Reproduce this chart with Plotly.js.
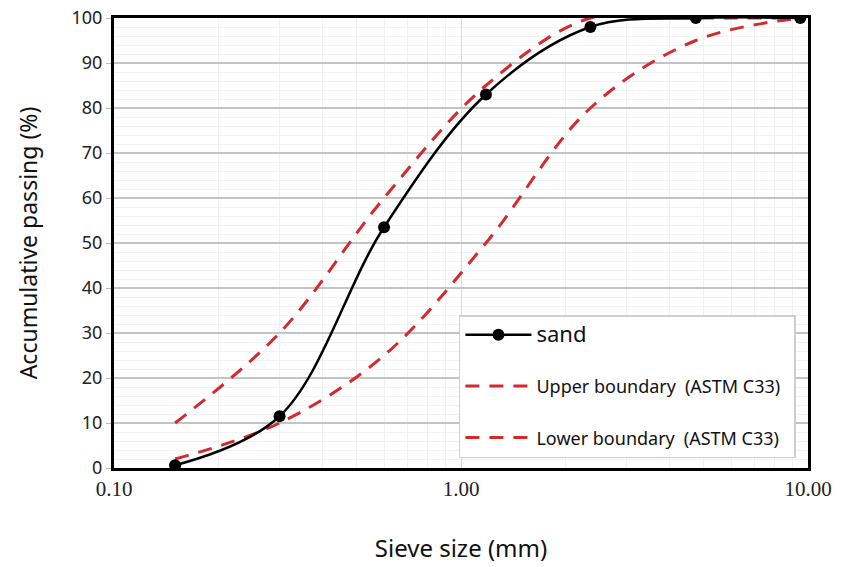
<!DOCTYPE html>
<html>
<head>
<meta charset="utf-8">
<script src="https://cdn.plot.ly/plotly-3.0.1.min.js"></script>
<style>html,body{margin:0;padding:0;background:#fff;}</style>
</head>
<body>
<div id="chart" style="width:850px;height:567px;"></div>
<script>
const sieveSizes = [0.15, 0.3, 0.6, 1.18, 2.36, 4.75, 9.5];
const sandPassing = [0.6, 11.5, 53.5, 83, 98, 100, 100];
const upperBoundary = [10, 30, 60, 85, 100, 100, 100];
const lowerBoundary = [2, 10, 25, 50, 80, 95, 100];
const xTickVals = [0.1, 1, 10];
const xTickText = ['0.10', '1.00', '10.00'];
const seriesNames = ['sand', 'Upper boundary\u2002(ASTM C33)', 'Lower boundary\u2002(ASTM C33)'];

const red = '#d32a2e';
const traces = [
  {
    x: sieveSizes, y: upperBoundary, name: seriesNames[1] + '\u2002', mode: 'lines',
    line: {color: red, width: 3, dash: '14px,10px', shape: 'spline'},
    legendgroup: 'b', legendrank: 2
  },
  {
    x: sieveSizes, y: lowerBoundary, name: seriesNames[2] + '\u2002', mode: 'lines',
    line: {color: red, width: 3, dash: '14px,10px', shape: 'spline'},
    legendgroup: 'c', legendrank: 3
  },
  {
    x: sieveSizes, y: sandPassing, name: '<span style="font-size:22px">' + seriesNames[0] + '</span>',
    mode: 'lines+markers',
    line: {color: '#000', width: 2.5, shape: 'spline'},
    marker: {color: '#000', size: 12},
    legendgroup: 'a', legendrank: 1
  }
];

const layout = {
  width: 850, height: 567,
  margin: {l: 114, r: 42, t: 18, b: 99},
  paper_bgcolor: '#fff', plot_bgcolor: '#fff',
  showlegend: true,
  legend: {
    x: 0.497, y: 0.34, xanchor: 'left', yanchor: 'top',
    bgcolor: '#fff', bordercolor: '#cfcfcf', borderwidth: 1.5,
    font: {family: 'Noto Sans, Open Sans, sans-serif', size: 18, color: '#111'},
    tracegroupgap: 25, traceorder: 'grouped',
    itemwidth: 66
  },
  xaxis: {
    type: 'log', range: [-1, 1],
    tickvals: xTickVals, ticktext: xTickText,
    tickfont: {family: 'Liberation Serif, Times New Roman, serif', size: 21, color: '#222'},
    showgrid: true, gridcolor: '#d9d9d9', gridwidth: 1,
    minor: {dtick: 'D1', showgrid: true, gridcolor: '#f0f0f0', gridwidth: 1, ticks: ''},
    showline: true, linecolor: '#000', linewidth: 3, mirror: true,
    ticks: '', ticklen: 0, zeroline: false,
    title: {text: 'Sieve size (mm)', font: {family: 'Noto Sans, Open Sans, sans-serif', size: 24, color: '#111'}, standoff: 40}
  },
  yaxis: {
    range: [0, 100], dtick: 10,
    tickfont: {family: 'Noto Sans, Open Sans, sans-serif', size: 18, color: '#222'},
    showgrid: true, gridcolor: '#c4c4c4', gridwidth: 1.5,
    minor: {dtick: 2, showgrid: true, gridcolor: '#f2f2f2', gridwidth: 1},
    showline: true, linecolor: '#000', linewidth: 3, mirror: true,
    ticks: 'outside', ticklen: 5, tickcolor: '#bbb', zeroline: false,
    title: {text: 'Accumulative passing (%)', font: {family: 'Noto Sans, Open Sans, sans-serif', size: 23, color: '#111'}, standoff: 28}
  }
};

Plotly.newPlot('chart', traces, layout, {displayModeBar: false, staticPlot: true});
</script>
</body>
</html>
